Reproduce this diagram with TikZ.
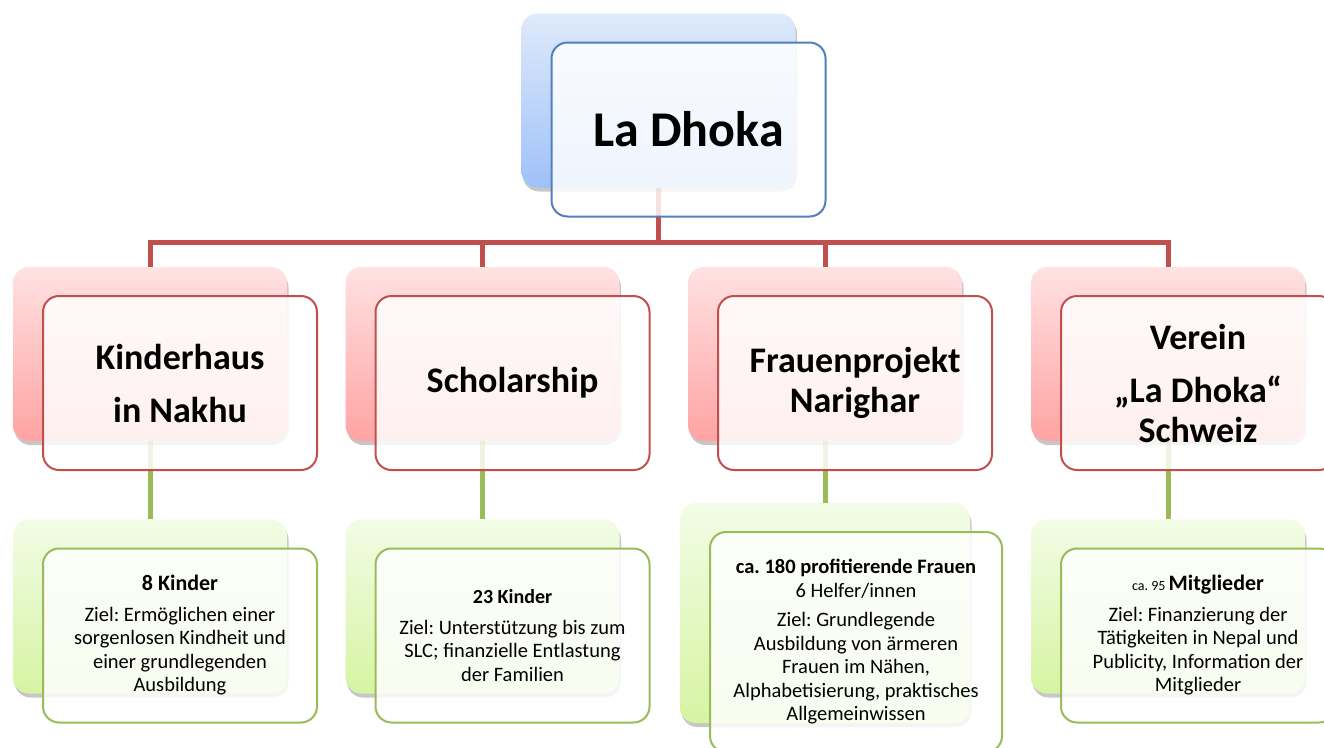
\documentclass[tikz,border=0pt]{standalone}
\usepackage{fontspec}
\setmainfont{Carlito}
\usetikzlibrary{shadows}
\definecolor{bluel}{HTML}{4F81BD}
\definecolor{redl}{HTML}{C0504D}
\definecolor{greenl}{HTML}{9BBB59}
\definecolor{bluetop}{HTML}{DFEAFB}
\definecolor{bluebot}{HTML}{9FC1F8}
\definecolor{redtop}{HTML}{FFE2E2}
\definecolor{redbot}{HTML}{FFA3A3}
\definecolor{greentop}{HTML}{F2FCE6}
\definecolor{greenbot}{HTML}{D6F4A2}
\pgfdeclarelayer{bg}
\pgfsetlayers{bg,main}
\begin{document}
\frenchspacing
\begin{tikzpicture}[x=1pt,y=-1pt,
  backbox/.style={rounded corners=16pt, minimum width=274pt, minimum height=174pt,
    inner sep=0pt, draw=none,
    drop shadow={shadow xshift=1.5pt, shadow yshift=-4pt, opacity=0.22, fill=black}},
  blueback/.style={backbox, top color=bluetop, bottom color=bluebot},
  redback/.style={backbox, top color=redtop, bottom color=redbot},
  greenback/.style={backbox, top color=greentop, bottom color=greenbot},
  frontbox/.style={rounded corners=16pt, minimum width=274pt, minimum height=174pt,
    inner sep=0pt, line width=2pt, fill=white, fill opacity=0.84, text opacity=1,
    align=center, text=black},
  bluefront/.style={frontbox, draw=bluel},
  redfront/.style={frontbox, draw=redl, font=\fontsize{36}{40}\selectfont\bfseries},
  greenfront/.style={frontbox, draw=greenl, font=\fontsize{20.5}{23.5}\selectfont},
  redconn/.style={draw=redl, line width=5pt},
  greenconn/.style={draw=greenl, line width=5pt}
]
\clip (0,0) rectangle (1324,747);

% top
\node[blueback] (topb) at (658.5,100.5) {};
\node[bluefront, font=\fontsize{50}{56}\selectfont\bfseries] (topf) at (688.5,129.5) {La Dhoka};

% level 2
\node[redback] (kb) at (150,354) {};
\node[redfront] (kf) at (180,383) {Kinderhaus\\[13pt]in Nakhu};
\node[redback] (sb) at (482.5,354) {};
\node[redfront] (sf) at (512.5,383) {Scholarship};
\node[redback] (fb) at (825,354) {};
\node[redfront] (ff) at (855,383) {Frauenprojekt\\Narighar};
\node[redback] (vb) at (1168,354) {};
\node[redfront] (vf) at (1198,383) {Verein\\[13pt]„La Dhoka“\\Schweiz};

% level 3
\node[greenback] (kgb) at (150,606.5) {};
\node[greenfront] (kgf) at (180,635.5) {{\fontsize{22}{24}\selectfont\bfseries 8 Kinder}\\[7pt]Ziel: Ermöglichen einer\\sorgenlosen Kindheit und\\einer grundlegenden\\Ausbildung};
\node[greenback] (sgb) at (482.5,606.5) {};
\node[greenfront] (sgf) at (512.5,635.5) {{\fontsize{20}{24}\selectfont\bfseries 23 Kinder}\\[7pt]Ziel: Unterstützung bis zum\\SLC; finanzielle Entlastung\\der Familien};
\node[greenback, minimum width=290pt, minimum height=220pt] (fgb) at (825,613) {};
\node[greenfront, minimum width=292pt, minimum height=220pt] (fgf) at (856,642) {{\bfseries ca. 180 profitierende Frauen}\\6 Helfer/innen\\[6pt]Ziel: Grundlegende\\Ausbildung von ärmeren\\Frauen im Nähen,\\Alphabetisierung, praktisches\\Allgemeinwissen};
\node[greenback] (vgb) at (1168,606.5) {};
\node[greenfront] (vgf) at (1198,635.5) {{\fontsize{14}{24}\selectfont ca. 95 }{\fontsize{22}{24}\selectfont\bfseries Mitglieder}\\[7pt]Ziel: Finanzierung der\\Tätigkeiten in Nepal und\\Publicity, Information der\\Mitglieder};

% connectors
\coordinate (bus) at (0,242);
\begin{pgfonlayer}{bg}
\fill[white] (0,0) rectangle (1324,747);
\draw[redconn] (topb.south) -- (topb.south |- bus) -| (kb.north);
\draw[redconn] (topb.south |- bus) -| (sb.north);
\draw[redconn] (topb.south |- bus) -| (fb.north);
\draw[redconn] (topb.south |- bus) -| (vb.north);
\draw[greenconn] (kb.south) -- (kgb.north);
\draw[greenconn] (sb.south) -- (sgb.north);
\draw[greenconn] (fb.south) -- (fgb.north);
\draw[greenconn] (vb.south) -- (vgb.north);
\end{pgfonlayer}
\end{tikzpicture}
\end{document}
